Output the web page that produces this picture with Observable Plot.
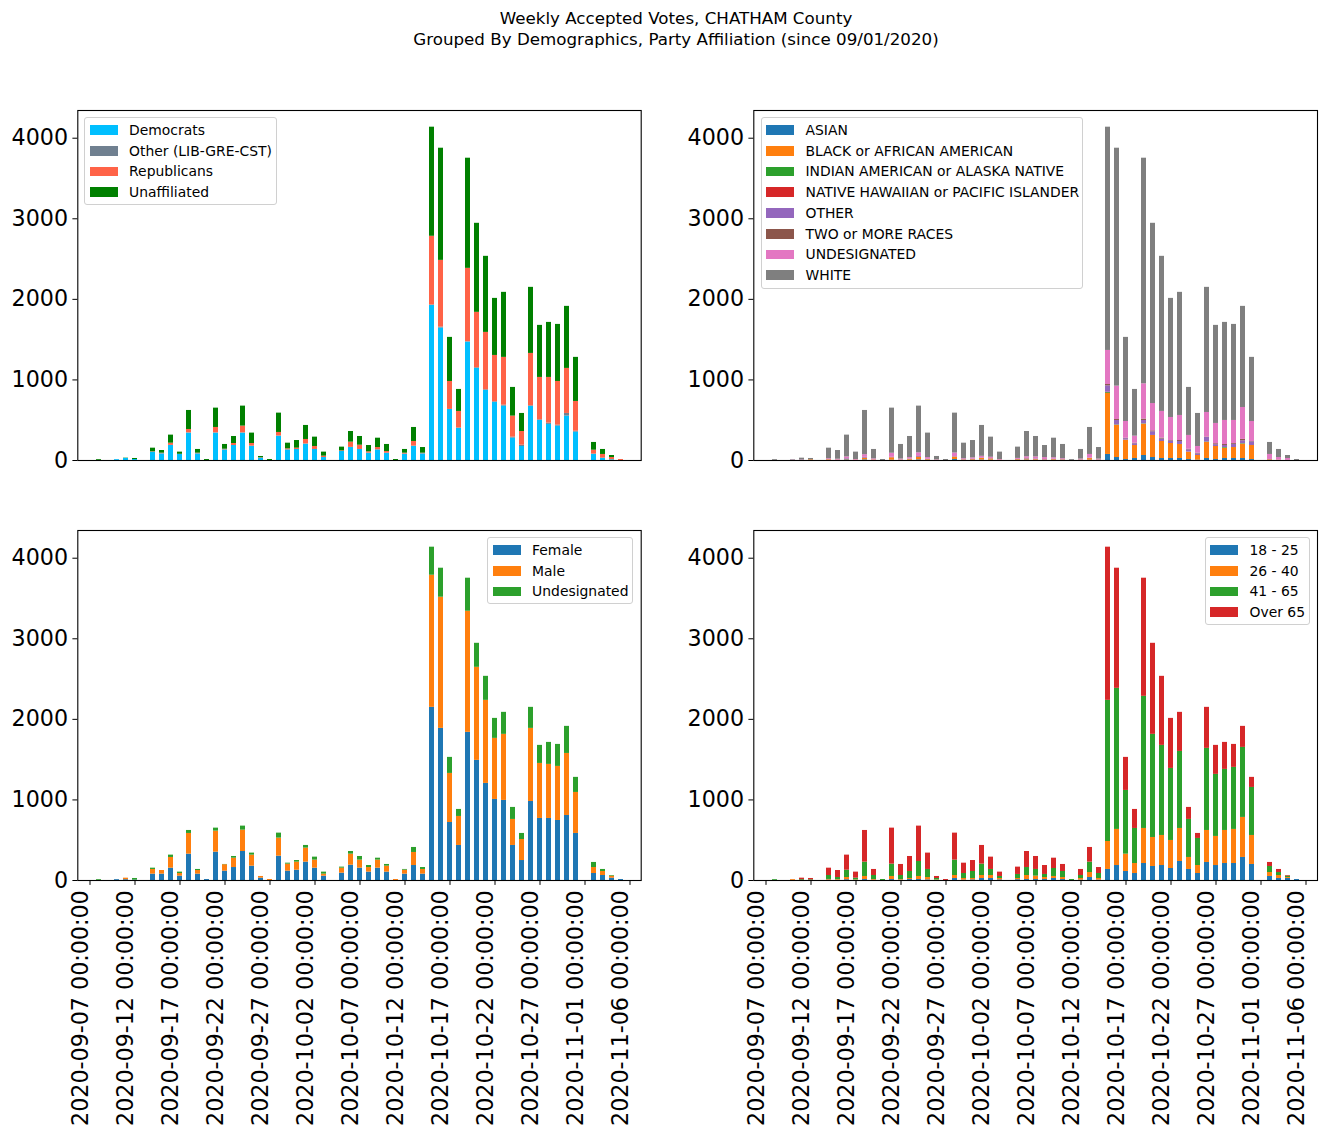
<!DOCTYPE html>
<html><head><meta charset="utf-8">
<script src="https://cdn.jsdelivr.net/npm/d3@7"></script>
<script src="https://cdn.jsdelivr.net/npm/@observablehq/plot@0.6"></script>
<style>
body{margin:0;background:#fff;font-family:"DejaVu Sans",sans-serif;}
#root{position:relative;width:1331px;height:1137px;overflow:hidden;background:#fff;}
.title{position:absolute;left:0;width:1352px;text-align:center;font-size:16.7px;line-height:21px;color:#000;}
.panel{position:absolute;}
.legend{position:absolute;border:1px solid #d0d0d0;border-radius:3px;background:rgba(255,255,255,0.8);box-sizing:border-box;}
.legend .sw{position:absolute;width:27.8px;height:9.7px;}
.legend .lb{position:absolute;font-size:13.9px;line-height:16px;white-space:nowrap;color:#000;}
</style></head><body><div id="root"></div>
<script>
const dates = [
"2020-09-07","2020-09-08","2020-09-09","2020-09-10","2020-09-11","2020-09-12","2020-09-13","2020-09-14","2020-09-15","2020-09-16",
"2020-09-17","2020-09-18","2020-09-19","2020-09-20","2020-09-21","2020-09-22","2020-09-23","2020-09-24","2020-09-25","2020-09-26",
"2020-09-27","2020-09-28","2020-09-29","2020-09-30","2020-10-01","2020-10-02","2020-10-03","2020-10-04","2020-10-05","2020-10-06",
"2020-10-07","2020-10-08","2020-10-09","2020-10-10","2020-10-11","2020-10-12","2020-10-13","2020-10-14","2020-10-15","2020-10-16",
"2020-10-17","2020-10-18","2020-10-19","2020-10-20","2020-10-21","2020-10-22","2020-10-23","2020-10-24","2020-10-25","2020-10-26",
"2020-10-27","2020-10-28","2020-10-29","2020-10-30","2020-10-31","2020-11-01","2020-11-02","2020-11-03","2020-11-04","2020-11-05",
"2020-11-06"];
const tickDates = ["2020-09-07","2020-09-12","2020-09-17","2020-09-22","2020-09-27","2020-10-02","2020-10-07","2020-10-12","2020-10-17","2020-10-22","2020-10-27","2020-11-01","2020-11-06"];
const yTicks = [0,1000,2000,3000,4000];

// Party affiliation
const partyNames = ["Democrats","Other (LIB-GRE-CST)","Republicans","Unaffiliated"];
const dem = [0,0,0,10,25,12,0,103,83,186, 75,340,83,0,340,132,186,340,178,29, 0,302,132,137,203,137,37,0,112,161, 137,91,132,91,0,79,178,83,1925,1644, 634,402,1470,1143,870,721,675,278,174,671, 497,448,427,551,352,0,79,29,8,0, 0];
const oth = [0,0,0,0,0,0,0,0,0,2, 0,3,0,0,3,0,0,3,0,0, 0,2,0,0,2,0,0,0,0,2, 0,0,0,0,0,0,0,0,5,12, 0,0,4,8,8,8,12,12,16,8, 8,16,12,33,12,0,0,0,4,0, 0];
const rep = [0,0,0,0,0,0,0,5,8,27, 2,42,8,0,67,8,25,84,33,5, 0,44,13,16,56,37,17,0,8,65, 53,17,29,21,0,12,58,8,853,828, 347,207,911,688,712,575,593,261,170,650, 526,567,542,559,369,0,49,46,25,12, 0];
const una = [0,10,0,0,4,13,0,45,33,100, 27,236,46,12,240,59,87,248,129,16, 12,240,70,95,174,116,50,0,46,132, 108,78,116,87,12,46,174,70,1354,1392, 547,273,1367,1105,944,708,807,356,224,820, 646,683,708,770,547,0,96,62,25,0, 0];

// Race
const raceNames = ["ASIAN","BLACK or AFRICAN AMERICAN","INDIAN AMERICAN or ALASKA NATIVE","NATIVE HAWAIIAN or PACIFIC ISLANDER","OTHER","TWO or MORE RACES","UNDESIGNATED","WHITE"];
const asian = [0,0,0,0,0,0,0,2,0,8, 0,8,0,0,4,2,4,8,4,0, 0,12,2,4,6,4,0,0,4,6, 4,2,4,2,0,2,4,2,75,37, 12,25,62,37,25,25,25,12,5,25, 12,25,25,25,12,0,2,0,0,0, 0];
const black = [0,0,0,0,0,8,0,8,4,8, 4,20,6,0,30,4,12,30,8,2, 0,30,6,8,20,16,4,0,8,12, 8,6,8,6,0,4,20,4,757,398, 241,161,389,274,211,186,174,92,57,199, 162,128,136,178,174,0,8,4,2,0, 0];
const indian = [0,0,0,0,0,0,0,0,0,0, 0,0,0,0,0,0,0,0,0,0, 0,0,0,0,0,0,0,0,0,0, 0,0,0,0,0,0,0,0,10,5, 0,0,4,0,0,0,0,0,0,5, 0,8,0,6,0,0,0,0,0,0, 0];
const hawaiian = [0,0,0,0,0,0,0,0,0,0, 0,0,0,0,0,0,0,0,0,0, 0,0,0,0,0,0,0,0,0,0, 0,0,0,0,0,0,0,0,5,2, 0,0,0,0,0,0,0,0,0,0, 0,0,0,0,0,0,0,0,0,0, 0];
const otherRace = [0,0,0,0,0,0,0,0,2,8, 0,8,2,0,4,0,4,8,4,0, 0,4,2,4,4,4,0,0,2,6, 6,4,4,2,0,2,4,2,80,55, 18,22,42,45,30,30,37,28,20,57, 22,25,40,35,45,0,3,0,0,0, 0];
const twoRaces = [0,0,0,0,0,0,0,0,0,0, 0,4,0,0,2,0,0,4,0,0, 0,2,0,0,2,0,0,0,0,2, 2,0,0,0,0,0,2,0,16,12, 5,7,17,12,12,7,12,8,8,5, 12,12,10,18,5,0,0,0,0,0, 0];
const undesRace = [0,0,0,4,6,0,0,12,10,20, 8,32,12,0,50,12,16,45,20,6, 0,45,12,16,20,16,8,0,12,20, 24,24,18,12,2,10,45,10,423,414, 208,87,438,339,331,286,311,171,84,305, 252,299,286,396,248,0,62,33,23,0, 0];
const white = [0,10,0,6,23,17,0,131,108,271, 92,549,117,12,560,181,262,580,304,42, 12,495,193,216,383,250,92,0,140,314, 254,150,243,177,10,119,335,143,2771,2953, 1044,580,2800,2237,1925,1478,1528,596,410,1553, 1217,1217,1192,1255,796,0,149,100,37,12, 0];

// Gender
const genderNames = ["Female","Male","Undesignated"];
const female = [0,0,0,10,10,5,0,79,79,153, 54,327,79,12,352,116,161,360,178,29, 0,302,116,128,228,153,54,0,91,190, 153,104,153,104,0,79,186,79,2149,1888, 720,435,1839,1491,1205,1006,994,435,248,981, 770,770,745,807,584,0,87,62,29,12, 0];
const male = [0,0,0,0,19,0,0,58,45,133, 33,257,45,0,261,80,116,265,137,21, 12,224,87,100,174,100,25,0,62,137, 100,57,100,74,12,49,162,58,1640,1628, 609,360,1503,1155,1031,758,820,323,261,907, 683,671,671,770,509,0,74,50,25,0, 0];
const undesGender = [0,10,0,0,0,20,0,16,0,29, 17,37,13,0,37,3,21,50,25,0, 0,62,12,20,33,37,25,0,13,33, 45,25,24,21,0,9,62,24,348,360, 199,87,410,298,298,248,273,149,75,261, 224,273,273,336,187,0,63,25,8,0, 0];

// Age
const ageNames = ["18 - 25","26 - 40","41 - 65","Over 65"];
const age1825 = [0,0,0,0,0,0,0,5,3,10, 2,12,3,0,12,3,12,12,8,2, 0,25,5,8,25,25,8,0,10,12, 12,12,25,12,0,5,37,5,137,186, 112,87,211,174,186,149,236,137,87,224, 186,211,211,286,199,0,50,25,25,12, 0];
const age2640 = [0,0,0,10,0,0,0,8,8,27, 6,38,9,0,38,8,13,38,29,5, 0,37,20,17,37,37,17,0,15,50, 42,25,25,25,0,20,62,20,347,448, 215,124,435,360,373,348,410,149,99,397, 361,410,423,497,360,0,49,37,12,0, 0];
const age4165 = [0,10,0,0,10,8,0,49,26,91, 21,178,50,12,153,51,87,186,100,18, 0,191,62,87,141,75,25,0,50,99, 83,38,99,75,12,37,129,62,1752,1751, 791,435,1640,1280,1118,894,956,472,336,1019, 770,758,770,869,596,0,75,37,17,0, 0];
const age65 = [0,0,0,0,19,17,0,91,87,187, 75,393,75,0,447,137,186,439,203,25, 12,335,128,136,232,153,54,0,91,199, 161,111,128,87,0,75,182,74,1901,1491, 410,236,1466,1130,857,621,485,149,62,509, 360,335,285,261,125,0,50,38,8,0, 0];

const root = document.getElementById("root");

function addTitle(text, top) {
  const t = document.createElement("div");
  t.className = "title"; t.style.top = top + "px"; t.textContent = text;
  root.appendChild(t);
}
addTitle("Weekly Accepted Votes, CHATHAM County", 7.5);
addTitle("Grouped By Demographics, Party Affiliation (since 09/01/2020)", 28.5);

function panel(o) {
  const rows = [];
  o.names.forEach((n, k) => o.series[k].forEach((v, i) => rows.push({date: dates[i], series: n, value: v})));
  const marks = [
    Plot.barY(rows, {x: "date", y: "value", fill: "series"}),
    Plot.frame({stroke: "black", strokeWidth: 1.1}),
    Plot.axisY({ticks: yTicks, tickFormat: d => String(d), tickSize: 4.9, tickPadding: 4.9, fontSize: 22.2, label: null})
  ];
  if (o.showX) {
    marks.push(Plot.axisX({ticks: tickDates, tickSize: 4.9, text: null, label: null}));
    marks.push(Plot.axisX({ticks: tickDates, tickFormat: d => d + " 00:00:00", tickRotate: -90, tickSize: 0, tickPadding: 9.8, fontSize: 22.2, label: null, dx: -9}));
  }
  const chart = Plot.plot({
    width: o.width, height: o.height,
    marginLeft: 77.3, marginRight: o.mr, marginTop: 10, marginBottom: o.mb,
    style: {fontFamily: "DejaVu Sans", fontSize: "22.2px", color: "black", background: "transparent", overflow: "visible"},
    x: {type: "band", domain: dates, paddingInner: 0.5, paddingOuter: 0.25, axis: null},
    y: {domain: [0, 4344], axis: null},
    color: {domain: o.names, range: o.colors},
    marks
  });
  const wrap = document.createElement("div");
  wrap.className = "panel"; wrap.style.left = o.left + "px"; wrap.style.top = o.top + "px";
  wrap.appendChild(chart);
  root.appendChild(wrap);
  // legend
  const lg = document.createElement("div");
  lg.className = "legend";
  Object.assign(lg.style, {left: o.lg[0] + "px", top: o.lg[1] + "px", width: o.lg[2] + "px", height: o.lg[3] + "px"});
  o.names.forEach((n, i) => {
    const cy = 11.7 + 20.75 * i;
    const sw = document.createElement("div");
    sw.className = "sw"; sw.style.left = "4.5px"; sw.style.top = (cy - 4.85) + "px"; sw.style.background = o.colors[i];
    const lb = document.createElement("div");
    lb.className = "lb"; lb.style.left = "43.8px"; lb.style.top = (cy - 8) + "px"; lb.textContent = n;
    lg.appendChild(sw); lg.appendChild(lb);
  });
  root.appendChild(lg);
}

const tab10 = ["#1f77b4","#ff7f0e","#2ca02c","#d62728","#9467bd","#8c564b","#e377c2","#7f7f7f"];

panel({names: partyNames, colors: ["#00BFFF","#708090","#FF6347","#008000"], series: [dem, oth, rep, una],
  left: 0, top: 100, width: 660, height: 370, mr: 19.3, mb: 10, showX: false, lg: [84.3, 117.3, 192.4, 88]});
panel({names: raceNames, colors: tab10, series: [asian, black, indian, hawaiian, otherRace, twoRaces, undesRace, white],
  left: 676, top: 100, width: 655, height: 370, mr: 14, mb: 10, showX: false, lg: [760.7, 117.3, 322.6, 172]});
panel({names: genderNames, colors: tab10.slice(0, 3), series: [female, male, undesGender],
  left: 0, top: 520, width: 660, height: 617, mr: 19.3, mb: 257, showX: true, lg: [487.3, 537.3, 146, 66.7]});
panel({names: ageNames, colors: tab10.slice(0, 4), series: [age1825, age2640, age4165, age65],
  left: 676, top: 520, width: 655, height: 617, mr: 14, mb: 257, showX: true, lg: [1204.7, 537.3, 105.3, 88]});
</script>
</body></html>
